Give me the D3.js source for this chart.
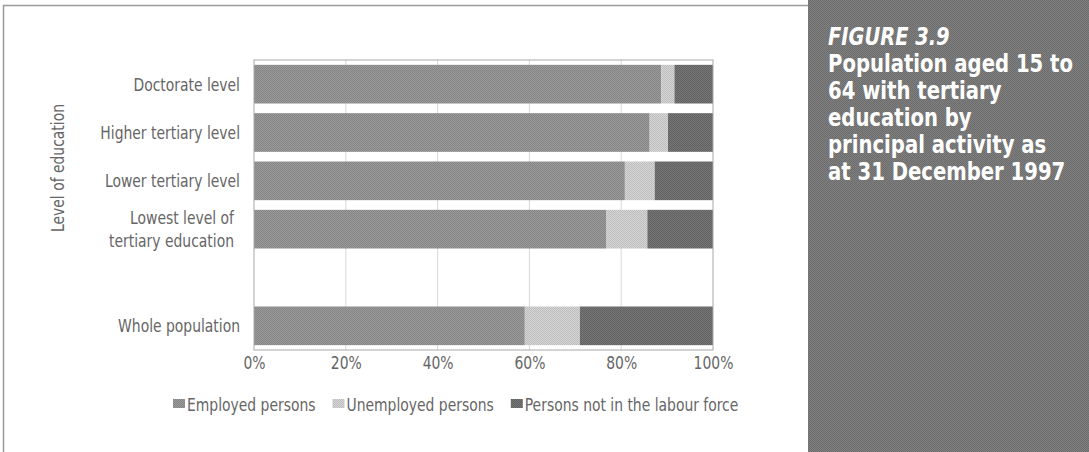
<!DOCTYPE html>
<html>
<head>
<meta charset="utf-8">
<script src="https://cdn.jsdelivr.net/npm/d3@7"></script>
<style>
  html, body { margin: 0; padding: 0; background: #fff; }
  svg { display: block; }
  text { font-family: "DejaVu Sans Condensed", "Liberation Sans Narrow", "Roboto", sans-serif; }
</style>
</head>
<body>
<svg id="chart" width="1089" height="452"></svg>
<script>
// Levels of education (top to bottom); the empty slot separates the total row
const categories = ["Doctorate level", "Higher tertiary level", "Lower tertiary level",
                    "Lowest level of\ntertiary education", "", "Whole population"];
const seriesNames = ["Employed persons", "Unemployed persons", "Persons not in the labour force"];
// Shares in percent for each level
const employed   = [88.7, 86.2, 80.8, 76.7, null, 59.0];
const unemployed = [2.9,  4.0,  6.5,  9.0,  null, 12.0];
const notInLF    = [8.4,  9.8,  12.7, 14.3, null, 29.0];
const xTicks = [0, 20, 40, 60, 80, 100];
const titleLines = ["Population aged 15 to", "64 with tertiary", "education by",
                    "principal activity as", "at 31 December 1997"];
const figureLabel = "FIGURE 3.9";

const svg = d3.select("#chart");
const defs = svg.append("defs");
const SX = 0.86;          // horizontal squeeze for the narrow label face
const LABEL_SIZE = 18;
const LABEL_COLOR = "#666";

// Places a horizontally condensed text at (x, y)
function narrowText(parent, x, y, str, anchor, sx) {
  return parent.append("text")
    .attr("transform", `translate(${x},${y}) scale(${sx || SX},1)`)
    .attr("text-anchor", anchor || "start")
    .text(str);
}

// Halftone-like textures for the fills
function halftone(id, a, b) {
  const p = defs.append("pattern").attr("id", id)
    .attr("width", 2).attr("height", 2).attr("patternUnits", "userSpaceOnUse");
  p.append("rect").attr("width", 2).attr("height", 2).attr("fill", a);
  p.append("rect").attr("width", 1).attr("height", 1).attr("fill", b);
  p.append("rect").attr("x", 1).attr("y", 1).attr("width", 1).attr("height", 1).attr("fill", b);
}
halftone("pEmp", "#9a9a9a", "#858585");
halftone("pUnemp", "#d6d6d6", "#bdbdbd");
halftone("pNot", "#767676", "#626262");
halftone("pPanel", "#808080", "#6c6c6c");

const fills = ["url(#pEmp)", "url(#pUnemp)", "url(#pNot)"];

// Outer frame and side panel
svg.append("path").attr("d", "M3.5,452 V5.5 H808").attr("fill", "none")
  .attr("stroke", "#9a9a9a").attr("stroke-width", 1.5);
svg.append("rect").attr("x", 808).attr("y", 0).attr("width", 281).attr("height", 452)
  .attr("fill", "url(#pPanel)");

const panel = svg.append("g").attr("fill", "#fff").attr("font-weight", "bold").attr("font-size", 24);
narrowText(panel, 828, 45, figureLabel, "start", 0.9).attr("font-style", "italic");
titleLines.forEach((t, i) => narrowText(panel, 828, 72 + i * 27, t, "start", 0.91));

// Plot area
const plotL = 254, plotR = 713, plotT = 60, plotB = 350;
const x = d3.scaleLinear().domain([0, 100]).range([plotL, plotR]);
const y = d3.scaleBand().domain(d3.range(categories.length)).range([plotT, plotB])
  .paddingInner(0.2).paddingOuter(0.1);

// Vertical grid lines
svg.append("g").selectAll("line").data(xTicks.slice(1, -1)).join("line")
  .attr("x1", d => x(d)).attr("x2", d => x(d)).attr("y1", plotT).attr("y2", plotB)
  .attr("stroke", "#d8d8d8").attr("stroke-width", 1);

// Stacked bars
const rows = categories.map((c, i) => ({ i, vals: [employed[i], unemployed[i], notInLF[i]] }))
  .filter(r => r.vals[0] !== null);
const segs = [];
rows.forEach(r => {
  let acc = 0;
  r.vals.forEach((v, k) => { segs.push({ i: r.i, k, x0: acc, x1: acc + v }); acc += v; });
});
svg.append("g").selectAll("rect").data(segs).join("rect")
  .attr("x", d => x(d.x0)).attr("width", d => x(d.x1) - x(d.x0))
  .attr("y", d => y(d.i)).attr("height", y.bandwidth())
  .attr("fill", d => fills[d.k]);

// Plot border
svg.append("rect").attr("x", plotL).attr("y", plotT).attr("width", plotR - plotL)
  .attr("height", plotB - plotT).attr("fill", "none").attr("stroke", "#a8a8a8").attr("stroke-width", 1);

// Category labels
const labelG = svg.append("g").attr("fill", LABEL_COLOR).attr("font-size", LABEL_SIZE);
categories.forEach((c, i) => {
  if (!c) return;
  const lines = c.split("\n");
  const cy = y(i) + y.bandwidth() / 2;
  lines.forEach((ln, j) => {
    narrowText(labelG, lines.length > 1 ? 234 : 240,
      cy + 6.5 + (j - (lines.length - 1) / 2) * 22.5, ln, "end");
  });
});

// Axis title
svg.append("text").attr("transform", `translate(64,168) rotate(-90) scale(${SX},1)`)
  .attr("text-anchor", "middle").attr("fill", LABEL_COLOR).attr("font-size", LABEL_SIZE)
  .text("Level of education");

// X axis tick labels
const xAxis = d3.axisBottom(x).tickValues(xTicks).tickFormat(d => d + "%").tickSize(0).tickPadding(0);
const ax = svg.append("g").attr("transform", `translate(0,${plotB + 6})`).call(xAxis);
ax.select(".domain").remove();
ax.selectAll("text").attr("fill", LABEL_COLOR).attr("font-size", LABEL_SIZE)
  .attr("font-family", "'DejaVu Sans Condensed', sans-serif")
  .attr("transform", `scale(${SX},1)`).attr("x", 0);

// Legend laid out left to right
const legend = svg.append("g").attr("font-size", LABEL_SIZE).attr("fill", LABEL_COLOR);
let lx = 173;
seriesNames.forEach((s, k) => {
  legend.append("rect").attr("x", lx).attr("y", 399).attr("width", 12).attr("height", 9)
    .attr("fill", fills[k]);
  const t = narrowText(legend, lx + 14, 411, s);
  lx += 14 + t.node().getComputedTextLength() * SX + 17;
});
</script>
</body>
</html>
